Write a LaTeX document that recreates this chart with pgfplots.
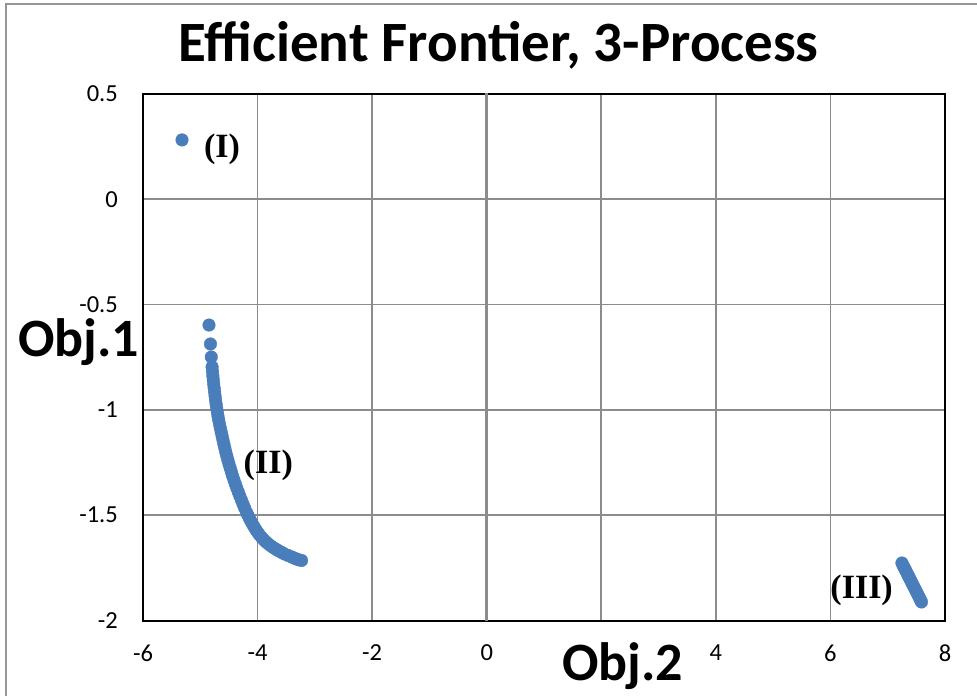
\documentclass[border=0pt]{standalone}
\usepackage{fontspec}
\setmainfont{Carlito}
\newfontfamily\labelfont{Liberation Serif}
\usepackage{pgfplots}
\pgfplotsset{compat=1.18}
\definecolor{ptblue}{RGB}{74,126,187}
\definecolor{gridgray}{RGB}{140,140,140}
\definecolor{bordergray}{RGB}{150,150,150}

\begin{document}
\begin{tikzpicture}[x=1pt,y=1pt]
\useasboundingbox (0,0) rectangle (977,696);
% chart area border
\draw[bordergray, line width=2pt] (6,0) -- (6,692) -- (977,692);
\begin{axis}[
  at={(143pt,75.5pt)}, anchor=south west,
  scale only axis, width=802pt, height=526.5pt,
  xmin=-6, xmax=8, ymin=-2, ymax=0.5,
  xtick={-6,-4,...,8}, ytick={-2,-1.5,...,0.5},
  xticklabels={-6,-4,-2,0,{},4,6,8},
  grid=major,
  major grid style={gridgray, line width=1.6pt},
  axis line style={black, line width=2pt},
  major tick length=0pt,
  tick label style={font=\fontsize{24.5}{29}\selectfont, inner sep=0pt},
  /pgf/number format/assume math mode=true,
  xticklabel style={yshift=-24pt},
  yticklabel style={xshift=-25pt},
  clip=false,
]
% vertical axis line at x = 0
\draw[gridgray, line width=3pt] (axis cs:0,-2.004) -- (axis cs:0,0.505);

% (I) single point
\addplot[only marks, mark=*, mark size=6.3pt, mark options={draw=ptblue, fill=ptblue}]
  coordinates {(-5.319,0.282)};

% (II) frontier branch
\addplot[only marks, mark=*, mark size=6.3pt, mark options={draw=ptblue, fill=ptblue}]
  coordinates {
  (-4.848,-0.597) (-4.822,-0.687) (-4.808,-0.749) (-4.794,-0.796)
  (-4.787,-0.818) (-4.780,-0.839) (-4.773,-0.858) (-4.766,-0.877)
  (-4.758,-0.896) (-4.750,-0.915) (-4.742,-0.934) (-4.733,-0.953)
  (-4.724,-0.972) (-4.714,-0.991) (-4.703,-1.010) (-4.691,-1.029)
  (-4.678,-1.048) (-4.665,-1.067) (-4.650,-1.086) (-4.635,-1.105)
  (-4.620,-1.124) (-4.604,-1.143) (-4.588,-1.162) (-4.572,-1.181)
  (-4.555,-1.200) (-4.537,-1.219) (-4.518,-1.238) (-4.499,-1.257)
  (-4.478,-1.276) (-4.457,-1.295) (-4.435,-1.314) (-4.412,-1.333)
  (-4.388,-1.352) (-4.363,-1.371) (-4.337,-1.390) (-4.310,-1.409)
  (-4.282,-1.428) (-4.254,-1.447) (-4.225,-1.466) (-4.195,-1.485)
  (-4.171,-1.499) (-4.146,-1.513) (-4.118,-1.528) (-4.090,-1.542)
  (-4.059,-1.556) (-4.028,-1.570) (-3.997,-1.582) (-3.965,-1.594)
  (-3.927,-1.606) (-3.888,-1.618) (-3.849,-1.628) (-3.809,-1.637)
  (-3.761,-1.647) (-3.713,-1.656) (-3.670,-1.663) (-3.626,-1.670)
  (-3.578,-1.677) (-3.530,-1.684) (-3.469,-1.691) (-3.408,-1.698)
  (-3.365,-1.703) (-3.321,-1.708) (-3.277,-1.712) (-3.233,-1.715)
  };

% (III) frontier branch
\addplot[only marks, mark=*, mark size=6.3pt, mark options={draw=ptblue, fill=ptblue}]
  coordinates {
  (7.248,-1.727) (7.267,-1.738) (7.286,-1.748) (7.305,-1.758)
  (7.324,-1.768) (7.343,-1.779) (7.362,-1.789) (7.381,-1.799)
  (7.400,-1.809) (7.419,-1.820) (7.438,-1.830) (7.457,-1.840)
  (7.476,-1.850) (7.495,-1.861) (7.514,-1.871) (7.533,-1.881)
  (7.552,-1.891) (7.571,-1.902) (7.589,-1.912)
  };

\node[font=\labelfont\bfseries\fontsize{34}{40}\selectfont] at (axis cs:-4.621,0.239) {(I)};
\node[font=\labelfont\bfseries\fontsize{34}{40}\selectfont] at (axis cs:-3.813,-1.262) {(II)};
\node[font=\labelfont\bfseries\fontsize{34}{40}\selectfont] at (axis cs:6.545,-1.859) {(III)};
\end{axis}

% title and axis titles
\node[anchor=base, font=\bfseries\fontsize{57}{60}\selectfont] at (498.5,634) {Efficient Frontier, 3-Process};
\node[anchor=base west, fill=white, inner xsep=2pt, inner ysep=5pt, font=\bfseries\fontsize{54}{60}\selectfont] at (16,339.3) {Obj.1};
\node[anchor=base west, fill=white, inner sep=4pt, font=\bfseries\fontsize{54}{60}\selectfont] at (558,16) {Obj.2};
\end{tikzpicture}
\end{document}
